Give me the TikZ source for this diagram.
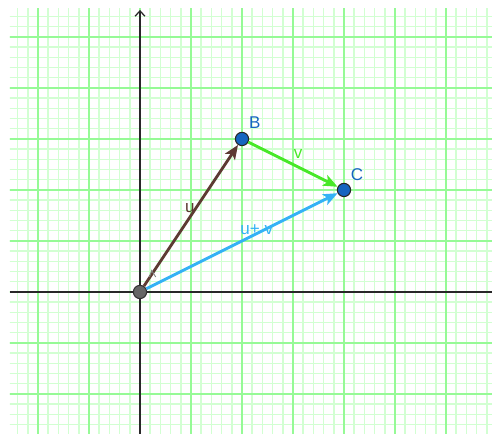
\documentclass[tikz,border=0pt]{standalone}
\usepackage{fontspec}
\setmainfont{Liberation Sans}
\usetikzlibrary{arrows.meta}
\definecolor{gmajor}{RGB}{150,250,150}
\definecolor{gminor}{RGB}{210,255,210}
\definecolor{ucol}{RGB}{93,58,50}
\definecolor{vcol}{RGB}{72,232,40}
\definecolor{wcol}{RGB}{52,178,245}
\definecolor{ptcol}{RGB}{21,101,192}
\definecolor{axcol}{RGB}{40,40,40}
\tikzset{
  minorgrid/.style={gminor,line width=0.8pt},
  majorgrid/.style={gmajor,line width=1.2pt},
  axisline/.style={axcol,line width=0.7pt},
  vec/.style={line width=1.6pt,-{Stealth[length=8pt,width=6.5pt,inset=2pt]}},
  bluept/.style={circle,draw=black!85,line width=0.6pt,fill=ptcol,minimum size=0.26cm,inner sep=0pt},
  greypt/.style={circle,draw=black!80,line width=0.6pt,fill=black!60,minimum size=0.26cm,inner sep=0pt},
  lbl/.style={font=\fontsize{9.5}{11}\selectfont,inner sep=0pt}
}
\begin{document}
\begin{tikzpicture}
\useasboundingbox (-2.745,-2.784) rectangle (6.902,5.725);
\begin{scope}
\clip (-2.549,-2.784) rectangle (6.902,5.549);
\draw[minorgrid] (-3,-3) grid[step=0.2] (7,6);
\draw[majorgrid] (-3,-3) grid[step=1] (7,6);
\end{scope}
\draw[axisline] (-2.549,0) -- (6.902,0);
\draw[axisline,-{Straight Barb[length=3pt,width=5.5pt]}] (0,-2.784) -- (0,5.53);
% points
\node[greypt] (O) at (0,0) {};
\node[bluept] (B) at (2,3) {};
\node[bluept] (C) at (4,2) {};
% vectors
\draw[vec,ucol] (O) -- (B);
\draw[vec,vcol] (B) -- (C);
\draw[vec,wcol] (O) -- (C);
% angle mark
\draw[black!50,line width=0.5pt] (0.186,0.294) -- (0.229,0.421) -- (0.308,0.294);
% labels
\node[lbl,text=ptcol] (Bl) at (2.25,3.33) {B};
\node[lbl,text=ptcol] (Cl) at (4.255,2.30) {C};
\node[lbl,text=vcol] (vl) at (3.10,2.71) {v};
\node[lbl,text=ucol] (ul) at (0.98,1.65) {u};
\node[lbl,text=wcol] (wl) at (2.29,1.22) {u+ v};
\end{tikzpicture}
\end{document}
